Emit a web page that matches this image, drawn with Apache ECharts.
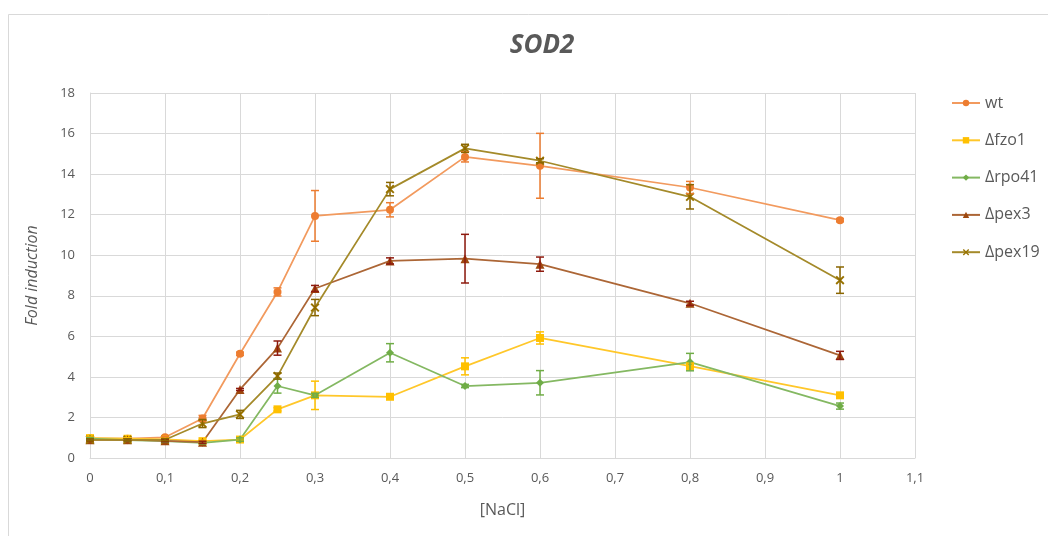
<!DOCTYPE html>
<html><head><meta charset="utf-8">
<script src="https://cdn.jsdelivr.net/npm/echarts@6/dist/echarts.min.js"></script>
<style>html,body{margin:0;padding:0;background:#fff}#c{width:1048px;height:536px}</style>
</head><body><div id="c"></div>
<script>
const xValues = [0, 0.05, 0.1, 0.15, 0.2, 0.25, 0.3, 0.4, 0.5, 0.6, 0.8, 1];
const seriesNames = ['wt', 'Δfzo1', 'Δrpo41', 'Δpex3', 'Δpex19'];
const wt      = [0.97, 0.95, 1.02, 1.95, 5.14, 8.19, 11.94, 12.24, 14.85, 14.41, 13.34, 11.73];
const wtErr   = [0.05, 0.05, 0.05, 0.15, 0.08, 0.2, 1.25, 0.35, 0.25, 1.6, 0.3, 0.08];
const fzo1    = [0.98, 0.95, 0.92, 0.83, 0.91, 2.4, 3.09, 3.02, 4.52, 5.92, 4.53, 3.09];
const fzo1Err = [0.05, 0.05, 0.05, 0.05, 0.05, 0.08, 0.7, 0.08, 0.42, 0.3, 0.15, 0.08];
const rpo41   = [0.95, 0.88, 0.83, 0.75, 0.91, 3.55, 3.09, 5.19, 3.55, 3.71, 4.73, 2.56];
const rpo41Err= [0.05, 0.05, 0.05, 0.05, 0.08, 0.35, 0.1, 0.45, 0.08, 0.6, 0.43, 0.15];
const pex3    = [0.9, 0.9, 0.85, 0.78, 3.38, 5.42, 8.36, 9.72, 9.83, 9.56, 7.63, 5.06];
const pex3Err = [0.05, 0.05, 0.05, 0.05, 0.05, 0.35, 0.15, 0.15, 1.2, 0.35, 0.1, 0.2];
const pex19   = [0.9, 0.9, 0.9, 1.7, 2.15, 4.04, 7.42, 13.26, 15.27, 14.66, 12.88, 8.77];
const pex19Err= [0.05, 0.05, 0.05, 0.2, 0.2, 0.15, 0.4, 0.33, 0.2, 0.1, 0.6, 0.65];
const yTicks = [0, 2, 4, 6, 8, 10, 12, 14, 16, 18];

const values = [wt, fzo1, rpo41, pex3, pex19];
const errs = [wtErr, fzo1Err, rpo41Err, pex3Err, pex19Err];
const colors = ['#ED7D31', '#FFC000', '#70AD47', '#9E480E', '#997300'];
const lineColors = ['#F29A5E', '#FFC72A', '#84B862', '#AC6636', '#A48A2A'];
const errColors = ['#ED7D31', '#FFC000', '#70AD47', '#8E1A0E', '#8A6600'];
const crossPath = 'path://M0,1.5L1.5,0L5,3.5L8.5,0L10,1.5L6.5,5L10,8.5L8.5,10L5,6.5L1.5,10L0,8.5L3.5,5Z';
const symbols = ['circle', 'rect', 'diamond', 'triangle', crossPath];
const symbolSizes = [8, 8, 8, 9, 9];
const font = 'Open Sans';

const series = [];
seriesNames.forEach((name, i) => {
  series.push({
    name: name, type: 'line',
    data: xValues.map((x, j) => [x, values[i][j]]),
    symbol: symbols[i], symbolSize: symbolSizes[i],
    itemStyle: { color: colors[i] },
    lineStyle: { color: lineColors[i], width: 1.75 },
    z: 3
  });
  series.push({
    name: name + '_err', type: 'custom',
    data: xValues.map((x, j) => [x, values[i][j] - errs[i][j], values[i][j] + errs[i][j]]),
    renderItem: function (params, api) {
      const lo = api.coord([api.value(0), api.value(1)]);
      const hi = api.coord([api.value(0), api.value(2)]);
      const h = 4;
      const st = { stroke: errColors[i], lineWidth: 1.5 };
      return { type: 'group', children: [
        { type: 'line', shape: { x1: lo[0], y1: lo[1], x2: hi[0], y2: hi[1] }, style: st },
        { type: 'line', shape: { x1: lo[0] - h, y1: lo[1], x2: lo[0] + h, y2: lo[1] }, style: st },
        { type: 'line', shape: { x1: hi[0] - h, y1: hi[1], x2: hi[0] + h, y2: hi[1] }, style: st }
      ]};
    },
    encode: { x: 0, y: [1, 2] },
    z: 4, silent: true
  });
});

const chart = echarts.init(document.getElementById('c'));
chart.setOption({
  animation: false,
  backgroundColor: '#fff',
  graphic: [{ type: 'rect', shape: { x: 8.5, y: 14.5, width: 1200, height: 700 }, style: { fill: 'none', stroke: '#d9d9d9', lineWidth: 1 }, silent: true }],
  title: { text: 'SOD2', left: 537, top: 28, textAlign: 'center',
    textStyle: { fontFamily: font, fontSize: 26, fontWeight: 'bold', fontStyle: 'italic', color: '#595959' } },
  grid: { left: 90, right: 133, top: 93, bottom: 78 },
  xAxis: {
    type: 'value', min: 0, max: 1.1, interval: 0.1,
    name: '[NaCl]', nameLocation: 'middle', nameGap: 44,
    nameTextStyle: { fontFamily: font, fontSize: 16, color: '#595959' },
    axisLine: { show: true, lineStyle: { color: '#d9d9d9' } },
    axisTick: { show: false },
    axisLabel: { fontFamily: font, fontSize: 13, color: '#595959', margin: 14,
      formatter: v => { const r = Math.round(v * 10) / 10; return String(r).replace('.', ','); } },
    splitLine: { show: true, lineStyle: { color: '#d9d9d9' } }
  },
  yAxis: {
    type: 'value', min: 0, max: 18, interval: 2,
    name: 'Fold induction', nameLocation: 'middle', nameGap: 50,
    nameTextStyle: { fontFamily: font, fontSize: 16, fontStyle: 'italic', color: '#595959' },
    axisLine: { show: true, lineStyle: { color: '#d9d9d9' } },
    axisTick: { show: false },
    axisLabel: { fontFamily: font, fontSize: 13, color: '#595959', margin: 15,
      formatter: v => yTicks.includes(v) ? String(v) : '' },
    splitLine: { show: true, lineStyle: { color: '#d9d9d9' } }
  },
  legend: {
    data: seriesNames, orient: 'vertical', left: 946, top: 90,
    itemWidth: 28, itemHeight: 8, itemGap: 21.3,
    textStyle: { fontFamily: font, fontSize: 16, color: '#595959' }
  },
  series: series
});
</script></body></html>
